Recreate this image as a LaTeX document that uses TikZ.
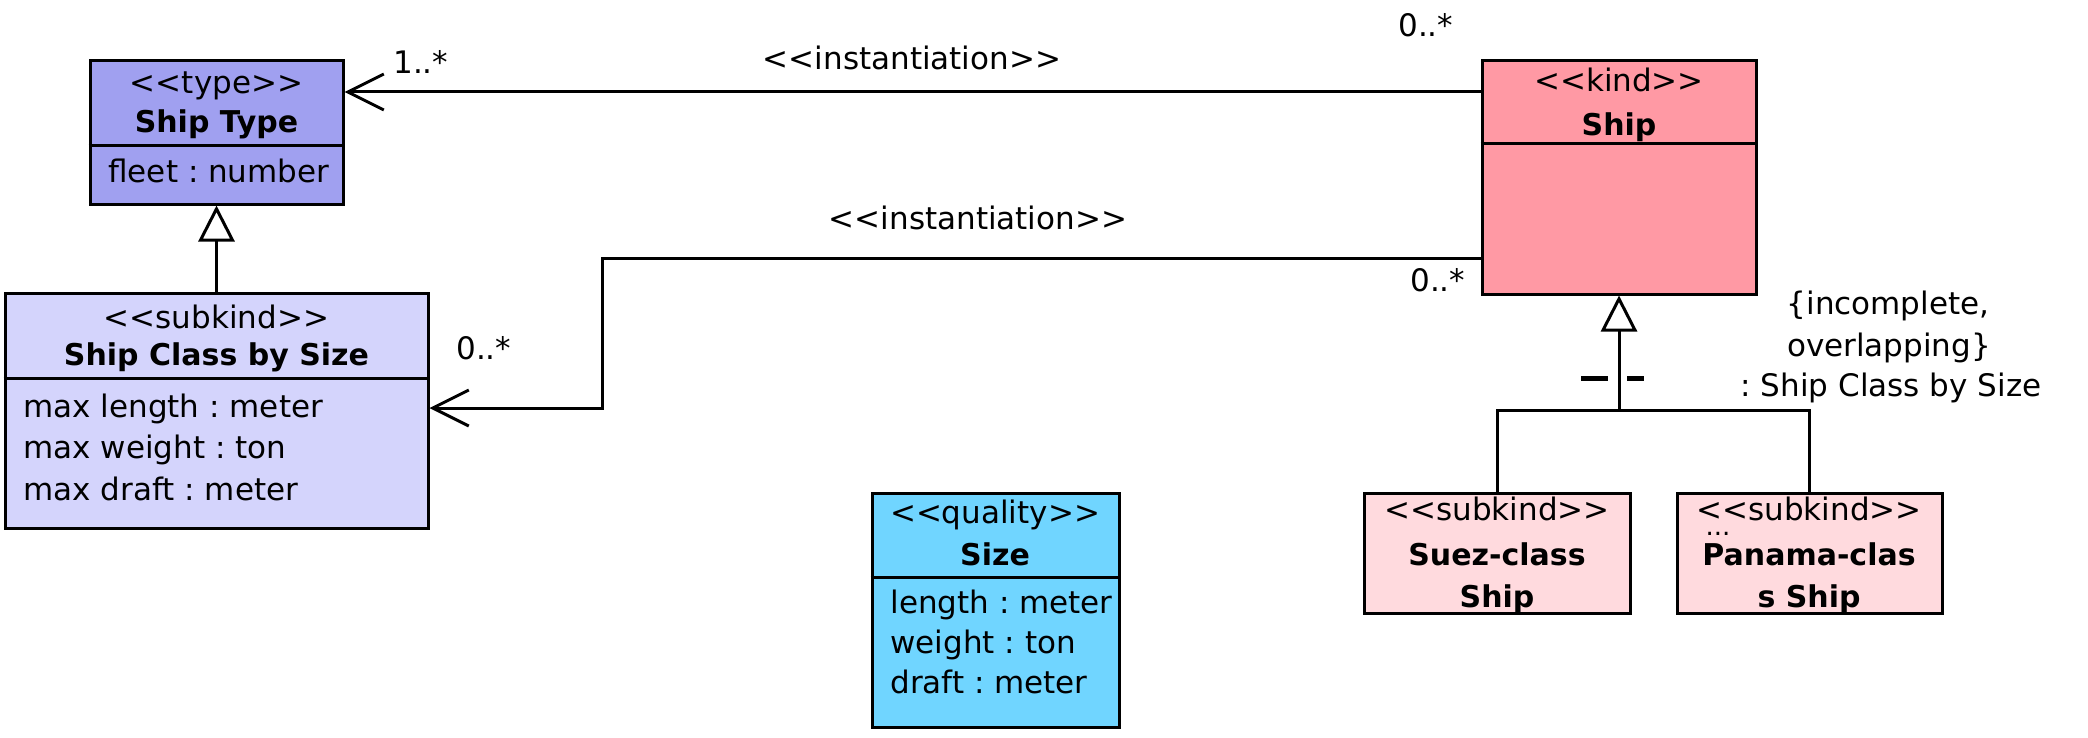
\documentclass[tikz,border=0pt]{standalone}
\usepackage{fontspec}
\setmainfont{DejaVu Sans}
\usetikzlibrary{arrows.meta,fit}
\definecolor{typecol}{RGB}{160,160,240}
\definecolor{subtypecol}{RGB}{212,212,252}
\definecolor{kindcol}{RGB}{255,153,164}
\definecolor{subkindcol}{RGB}{255,218,222}
\definecolor{qualcol}{RGB}{112,213,255}
\newcommand{\stereo}[1]{<\kern0pt<#1>\kern0pt>}
\tikzset{
  umlbox/.style={draw, line width=1.5pt, inner sep=0pt},
  txt/.style={font=\fontsize{15.5}{19}\selectfont\frenchspacing, inner sep=0pt, anchor=base},
  btxt/.style={txt, font=\fontsize{15}{19}\selectfont\bfseries},
  ltxt/.style={txt, anchor=base west},
  conn/.style={line width=1.5pt},
  assoc/.style={conn, -{Straight Barb[length=18pt,width=18pt,line width=1.5pt]}},
  gen/.style={conn, -{Triangle[open,fill=white,length=18pt,width=18pt,line width=1.5pt]}},
}
\newcommand{\umlbox}[6]{\node[umlbox, fill=#6, fit={(#2,#3) (#4,#5)}] (#1) {};}
\begin{document}
\begin{tikzpicture}[x=0.5pt,y=-0.5pt]
\useasboundingbox (0,0) rectangle (2088,738);
% boxes
\umlbox{stype}{90}{61}{343}{204}{typecol}
\umlbox{sclass}{5}{293}{428}{528}{subtypecol}
\umlbox{ship}{1482}{61}{1756}{294}{kindcol}
\umlbox{suez}{1364}{493}{1630}{613}{subkindcol}
\umlbox{pana}{1677}{493}{1942}{613}{subkindcol}
\umlbox{size}{872}{493}{1119}{727}{qualcol}
% compartment dividers
\draw[conn] (stype.west |- 0,146) -- (stype.east |- 0,146);
\draw[conn] (sclass.west |- 0,378) -- (sclass.east |- 0,378);
\draw[conn] (ship.west |- 0,144) -- (ship.east |- 0,144);
\draw[conn] (size.west |- 0,577) -- (size.east |- 0,577);
% texts
\node[txt] (st1) at (216.5,94) {\stereo{type}};
\node[btxt] (st2) at (216.5,133) {Ship Type};
\node[ltxt] (st3) at (108,183) {fleet : number};
\node[txt] (sc1) at (216.5,328) {\stereo{subkind}};
\node[btxt] (sc2) at (216.5,365) {Ship Class by Size};
\node[ltxt] (sc3) at (23,417) {max length : meter};
\node[ltxt] (sc4) at (23,458) {max weight : ton};
\node[ltxt] (sc5) at (23,500) {max draft : meter};
\node[txt] (sh1) at (1619,92) {\stereo{kind}};
\node[btxt] (sh2) at (1619,135) {Ship};
\node[txt] (sz1) at (995,523) {\stereo{quality}};
\node[btxt] (sz2) at (995,565) {Size};
\node[ltxt] (sz3) at (890,613) {length : meter};
\node[ltxt] (sz4) at (890,653) {weight : ton};
\node[ltxt] (sz5) at (890,693) {draft : meter};
\node[txt] (su1) at (1497,520) {\stereo{subkind}};
\node[btxt] (su2) at (1497,565) {Suez-class};
\node[btxt] (su3) at (1497,607) {Ship};
\node[txt] (pa1) at (1809,520) {\stereo{subkind}};
\node[txt, font=\fontsize{13}{15}\selectfont] (pa0) at (1718,535) {...};
\node[btxt] (pa2) at (1809,565) {Panama-clas};
\node[btxt] (pa3) at (1809,607) {s Ship};
% associations
\coordinate (ya) at (0,92);
\coordinate (yb) at (0,258);
\coordinate (yc) at (0,408);
\coordinate (bend) at (602,0);
\draw[assoc] (ship.west |- ya) -- (stype.east |- ya);
\draw[assoc] (ship.west |- yb) -- (bend |- yb) -- (bend |- yc) -- (sclass.east |- yc);
\node[txt] (lab1) at (912,70) {\stereo{instantiation}};
\node[txt] (lab2) at (978,229) {\stereo{instantiation}};
\node[ltxt] (m1) at (393,74) {1..*};
\node[ltxt] (m2) at (1398,37) {0..*};
\node[ltxt] (m3) at (1410,291) {0..*};
\node[ltxt] (m4) at (456,359) {0..*};
% generalizations
\draw[gen] (sclass.north) -- (stype.south);
\coordinate (j) at (ship.south |- 0,410);
\draw[conn] (suez.north) |- (j) -| (pana.north);
\draw[gen] (j) -- (ship.south);
\draw[line width=2.5pt] (1581,378) -- (1608,378);
\draw[line width=2.5pt] (1627,378) -- (1644,378);
\node[txt] (c1) at (1888,314) {\{incomplete,};
\node[txt] (c2) at (1889,356) {overlapping\}};
\node[txt] (c3) at (1891,396) {: Ship Class by Size};
\end{tikzpicture}
\end{document}
